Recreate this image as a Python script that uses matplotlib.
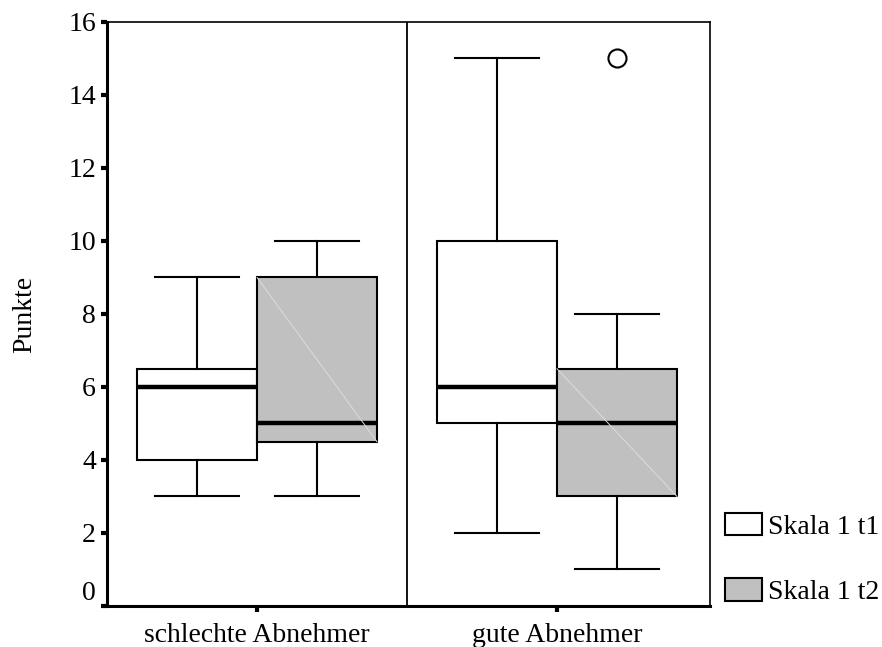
import matplotlib.pyplot as plt
from matplotlib.patches import Patch

plt.rcParams['font.family'] = ['Liberation Serif', 'DejaVu Serif']

groups = ['schlechte Abnehmer', 'gute Abnehmer']
series = ['Skala 1 t1', 'Skala 1 t2']
colors = ['white', '#c0c0c0']

# per series: values for [schlechte, gute]
whislo = {'Skala 1 t1': [3, 2], 'Skala 1 t2': [3, 1]}
q1 = {'Skala 1 t1': [4, 5], 'Skala 1 t2': [4.5, 3]}
med = {'Skala 1 t1': [6, 6], 'Skala 1 t2': [5, 5]}
q3 = {'Skala 1 t1': [6.5, 10], 'Skala 1 t2': [9, 6.5]}
whishi = {'Skala 1 t1': [9, 15], 'Skala 1 t2': [10, 8]}
fliers = {'Skala 1 t1': [[], []], 'Skala 1 t2': [[], [15]]}

yticks = [0, 2, 4, 6, 8, 10, 12, 14, 16]

fig = plt.figure(figsize=(8.82, 6.47), dpi=100)
ax = fig.add_axes([0.1213, 0.0634, 0.6837, 0.9026])

offsets = [-0.2, 0.2]
for s, off, col in zip(series, offsets, colors):
    stats = []
    for i in range(len(groups)):
        stats.append(dict(med=med[s][i], q1=q1[s][i], q3=q3[s][i],
                          whislo=whislo[s][i], whishi=whishi[s][i],
                          fliers=fliers[s][i]))
    pos = [i + off for i in range(len(groups))]
    ax.bxp(stats, positions=pos, widths=0.4, capwidths=0.28, patch_artist=True,
           boxprops=dict(facecolor=col, edgecolor='black', linewidth=1.5),
           medianprops=dict(color='black', linewidth=3.2),
           whiskerprops=dict(color='black', linewidth=1.5),
           capprops=dict(color='black', linewidth=1.5),
           flierprops=dict(marker='o', markersize=13, markerfacecolor='white',
                           markeredgecolor='black', markeredgewidth=1.5),
           showfliers=True, manage_ticks=False, zorder=3)
    if col != 'white':
        # faint diagonal artefact in the grey boxes
        for p, lo, hi in zip(pos, q1[s], q3[s]):
            ax.plot([p - 0.2, p + 0.2], [hi, lo], color='#dcdcdc', lw=0.7, zorder=4)

ax.axvline(0.5, color='black', lw=1.3)
ax.set_xlim(-0.5, 1.51)
ax.set_ylim(0, 16)

ax.set_yticks(yticks)
ax.set_yticklabels([str(v) for v in yticks], fontsize=20)
ax.set_xticks(range(len(groups)))
ax.set_xticklabels(groups, fontsize=20)
ax.tick_params(axis='y', direction='out', length=4, width=3, pad=4)
ax.tick_params(axis='x', direction='out', length=4, width=3, pad=8)
ylabels = ax.get_yticklabels()
ylabels[0].set_va('bottom')

ax.set_ylabel('Punkte', fontsize=20)
ax.yaxis.set_label_coords(-0.115, 0.5)

for side in ['left', 'bottom']:
    ax.spines[side].set_linewidth(2.2)
for side in ['top', 'right']:
    ax.spines[side].set_linewidth(1.2)

handles = [Patch(facecolor=c, edgecolor='black', linewidth=1.5) for c in colors]
fig.legend(handles, series, loc='center left', bbox_to_anchor=(0.822, 0.136),
           frameon=False, fontsize=20, handlelength=1.33, handleheight=0.86,
           handletextpad=0.2, labelspacing=1.4, borderaxespad=0, borderpad=0)

plt.savefig('out.png', dpi=100)
plt.close()
